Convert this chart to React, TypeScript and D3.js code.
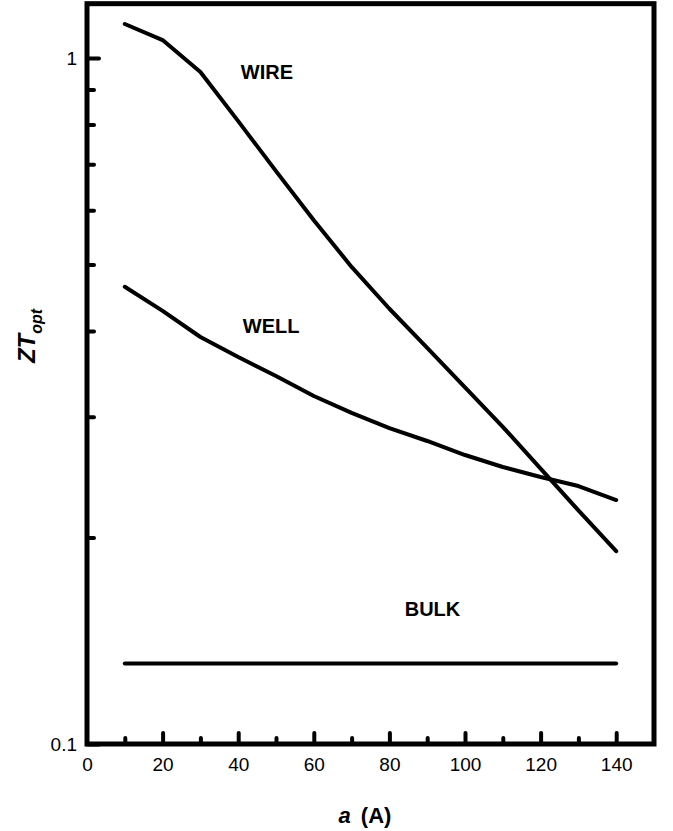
import React, { useEffect, useRef } from 'react';
import * as d3 from 'd3';

// sizes a (A)
const sizes = [10, 20, 30, 40, 50, 60, 70, 80, 90, 100, 110, 120, 130, 140];
const wire = [1.121, 1.062, 0.954, 0.809, 0.684, 0.58, 0.496, 0.431, 0.378, 0.331, 0.29, 0.252, 0.219, 0.191];
const well = [0.464, 0.428, 0.392, 0.3665, 0.344, 0.3216, 0.3038, 0.2888, 0.2765, 0.2638, 0.2534, 0.245, 0.2377, 0.2268];
const bulk = [0.131, 0.131, 0.131, 0.131, 0.131, 0.131, 0.131, 0.131, 0.131, 0.131, 0.131, 0.131, 0.131, 0.131];

const xMajor = [20, 40, 60, 80, 100, 120, 140];
const xLabels = [0, 20, 40, 60, 80, 100, 120, 140];
const xMinor = [10, 30, 50, 70, 90, 110, 130];
const yMajor = [0.1, 1];
const yMinor = [0.2, 0.3, 0.4, 0.5, 0.6, 0.7, 0.8, 0.9];

const curveLabels = [
    { text: 'WIRE', x: 47.6, y: 0.932 },
    { text: 'WELL', x: 48.7, y: 0.397 },
    { text: 'BULK', x: 91.4, y: 0.1537 },
];

function App() {
    const svgRef = useRef<SVGSVGElement>(null);
    const w = 673;
    const h = 831;

    useEffect(() => {
        const svg = d3.select(svgRef.current);
        svg.selectAll('*').remove();

        const left = 87, right = 654, bottom = 744;
        const decade = 686;

        const x = d3.scaleLinear().domain([0, 150]).range([left, right]);
        const y = d3.scaleLog()
            .domain([0.1, 1.2])
            .range([bottom, bottom - decade * Math.log10(12)]);

        const font = '"Liberation Sans", Arial, sans-serif';

        // frame
        svg.append('rect')
            .attr('x', left)
            .attr('y', y(1.2))
            .attr('width', right - left)
            .attr('height', bottom - y(1.2))
            .attr('fill', 'none')
            .attr('stroke', '#000')
            .attr('stroke-width', 5);

        const styleAxis = (g: any) => {
            g.select('.domain').remove();
            g.selectAll('line')
                .attr('stroke', '#000')
                .attr('stroke-width', 4)
                .attr('stroke-linecap', 'round');
            g.selectAll('text')
                .attr('fill', '#000')
                .style('font-family', font)
                .style('font-size', '19px');
        };

        // x axis
        svg.append('g')
            .attr('transform', `translate(0, ${bottom})`)
            .call(d3.axisBottom(x).tickValues(xMajor).tickSize(-11).tickFormat(() => ''))
            .call(styleAxis);
        svg.append('g')
            .attr('transform', `translate(0, ${bottom})`)
            .call(d3.axisBottom(x).tickValues(xMinor).tickSize(-6).tickFormat(() => ''))
            .call(styleAxis);
        svg.append('g')
            .attr('transform', `translate(0, ${bottom})`)
            .call(d3.axisBottom(x).tickValues(xLabels).tickSize(0).tickPadding(14).tickFormat(d3.format('d')))
            .call(styleAxis);

        // y axis
        svg.append('g')
            .attr('transform', `translate(${left}, 0)`)
            .call(d3.axisLeft(y).tickValues(yMajor).tickSize(-12).tickPadding(10)
                .tickFormat((d: any) => String(d)))
            .call(styleAxis);
        svg.append('g')
            .attr('transform', `translate(${left}, 0)`)
            .call(d3.axisLeft(y).tickValues(yMinor).tickSize(-7).tickFormat(() => ''))
            .call(styleAxis);

        // curves
        const line = d3.line<number>()
            .x((d, i) => x(sizes[i]))
            .y(d => y(d));

        [wire, well, bulk].forEach(series => {
            svg.append('path')
                .datum(series)
                .attr('d', line)
                .attr('fill', 'none')
                .attr('stroke', '#000')
                .attr('stroke-width', 4)
                .attr('stroke-linejoin', 'round')
                .attr('stroke-linecap', 'round');
        });

        // curve labels
        svg.selectAll('text.curve')
            .data(curveLabels)
            .enter()
            .append('text')
            .attr('class', 'curve')
            .attr('x', d => x(d.x))
            .attr('y', d => y(d.y))
            .attr('text-anchor', 'middle')
            .style('font-family', font)
            .style('font-size', '20px')
            .style('font-weight', 'bold')
            .text(d => d.text);

        // x title
        const xt = svg.append('text')
            .attr('x', 365)
            .attr('y', 823)
            .attr('text-anchor', 'middle')
            .style('font-family', font)
            .style('font-size', '22px')
            .style('font-weight', 'bold');
        xt.append('tspan').style('font-style', 'italic').text('a');
        xt.append('tspan').attr('dx', 10).text('(A)');

        // y title
        const yt = svg.append('text')
            .attr('transform', 'translate(35, 336) rotate(-90)')
            .attr('text-anchor', 'middle')
            .style('font-family', font)
            .style('font-size', '24px')
            .style('font-weight', 'bold')
            .style('font-style', 'italic');
        yt.append('tspan').text('ZT');
        yt.append('tspan').attr('dy', 7).style('font-size', '16px').text('opt');
    }, []);

    return (
        <svg ref={svgRef} width={w} height={h}
            style={{ position: 'absolute', left: 0, top: 0, background: '#fff' }}></svg>
    );
}

export default App;
